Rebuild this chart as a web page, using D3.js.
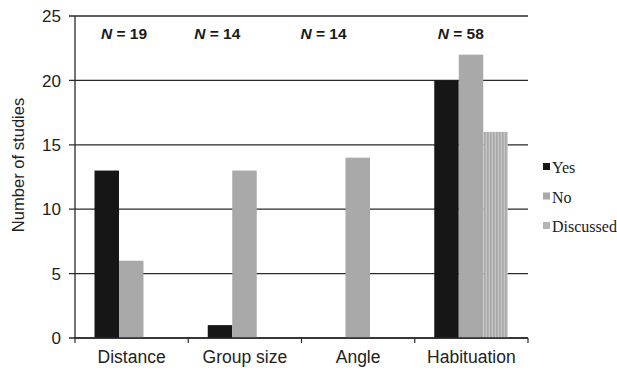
<!DOCTYPE html>
<html><head><meta charset="utf-8">
<script src="https://cdn.jsdelivr.net/npm/d3@7"></script>
<style>body{margin:0;background:#fff}</style>
</head><body>
<svg id="c" width="617" height="372"></svg>
<script>
const categories = ["Distance", "Group size", "Angle", "Habituation"];
const seriesNames = ["Yes", "No", "Discussed"];
const yesValues = [13, 1, 0, 20];
const noValues = [6, 13, 14, 22];
const discussedValues = [0, 0, 0, 16];
const nLabels = ["19", "14", "14", "58"];
const yTicks = [0, 5, 10, 15, 20, 25];

(function () {
const seriesValues = [yesValues, noValues, discussedValues];
const svg = d3.select("#c");
const mLeft = 75, mRight = 528, mTop = 16, mBottom = 338;
const x0 = d3.scaleBand().domain(categories).range([mLeft, mRight]).padding(0);
const x1 = d3.scaleBand().domain(seriesNames).range([19.5, 93]).padding(0);
const y = d3.scaleLinear().domain([0, 25]).range([mBottom, mTop]);

// pattern for Discussed
const defs = svg.append("defs");
const pat = defs.append("pattern").attr("id", "stripes").attr("patternUnits", "userSpaceOnUse")
  .attr("width", 3).attr("height", 10);
pat.append("rect").attr("width", 3).attr("height", 10).attr("fill", "#a9a9a9");
pat.append("rect").attr("x", 2).attr("width", 1).attr("height", 10).attr("fill", "#cfcfcf");

const colors = {Yes: "#161616", No: "#a9a9a9", Discussed: "url(#stripes)"};

// gridlines
svg.append("g").selectAll("line").data(yTicks).join("line")
  .attr("x1", mLeft - 6).attr("x2", mRight).attr("y1", d => y(d)).attr("y2", d => y(d))
  .attr("stroke", "#2a2a2a").attr("stroke-width", 1.3);

// y tick labels
svg.append("g").selectAll("text").data(yTicks).join("text")
  .attr("x", 61).attr("y", d => y(d)).attr("dy", "0.36em").attr("text-anchor", "end")
  .attr("font-family", "Liberation Sans, Arial, sans-serif").attr("font-size", 17).attr("fill", "#222")
  .text(d => d);

// y axis line
svg.append("line").attr("x1", mLeft).attr("x2", mLeft).attr("y1", mTop).attr("y2", mBottom)
  .attr("stroke", "#2a2a2a").attr("stroke-width", 1.3);

// bars
const rows = categories.map((c, i) => ({cat: c, vals: seriesNames.map((s, j) => ({s, v: seriesValues[j][i]}))}));
const g = svg.append("g").selectAll("g").data(rows).join("g")
  .attr("transform", d => `translate(${x0(d.cat)},0)`);
g.selectAll("rect").data(d => d.vals.filter(e => e.v > 0)).join("rect")
  .attr("x", d => x1(d.s)).attr("width", x1.bandwidth())
  .attr("y", d => y(d.v)).attr("height", d => y(0) - y(d.v))
  .attr("fill", d => colors[d.s]);

// x axis
const xAxisG = svg.append("g");
xAxisG.append("line").attr("x1", mLeft - 1).attr("x2", mRight).attr("y1", mBottom).attr("y2", mBottom)
  .attr("stroke", "#2a2a2a").attr("stroke-width", 1.3);
const tickXs = categories.map(c => x0(c)).concat([mRight]);
xAxisG.selectAll("line.t").data(tickXs).join("line").attr("class", "t")
  .attr("x1", d => d).attr("x2", d => d).attr("y1", mBottom).attr("y2", mBottom + 5)
  .attr("stroke", "#2a2a2a").attr("stroke-width", 1.2);
svg.append("g").selectAll("text").data(categories).join("text")
  .attr("x", d => x0(d) + x0.bandwidth() / 2).attr("y", 363).attr("text-anchor", "middle")
  .attr("font-family", "Liberation Sans, Arial, sans-serif").attr("font-size", 17.5).attr("fill", "#222")
  .text(d => d);

// y title
svg.append("text").attr("transform", "translate(24,165) rotate(-90)").attr("text-anchor", "middle")
  .attr("font-family", "Liberation Sans, Arial, sans-serif").attr("font-size", 16.6).attr("fill", "#222")
  .text("Number of studies");

// N annotations (layout offsets within each band)
const nOffsets = [26, 6, -1, 23];
const nt = svg.append("g").selectAll("text").data(categories).join("text")
  .attr("x", (d, i) => x0(d) + nOffsets[i]).attr("y", 39)
  .attr("font-family", "Liberation Sans, Arial, sans-serif").attr("font-size", 15.5).attr("font-weight", "bold").attr("fill", "#1a1a1a");
nt.append("tspan").attr("font-style", "italic").text("N");
nt.append("tspan").text((d, i) => " = " + nLabels[i]);

// legend
const lg = svg.append("g").selectAll("g").data(seriesNames).join("g")
  .attr("transform", (d, i) => `translate(543,${173 + i * 29.5})`);
lg.append("rect").attr("x", 0).attr("y", -10).attr("width", 7).attr("height", 7)
  .attr("fill", d => d === "Discussed" ? "#b5b5b5" : colors[d]);
lg.append("text").attr("x", 9).attr("y", 0)
  .attr("font-family", "Liberation Serif, serif").attr("font-size", 16).attr("fill", "#1a1a1a")
  .text(d => d);
})();
</script>
</body></html>
